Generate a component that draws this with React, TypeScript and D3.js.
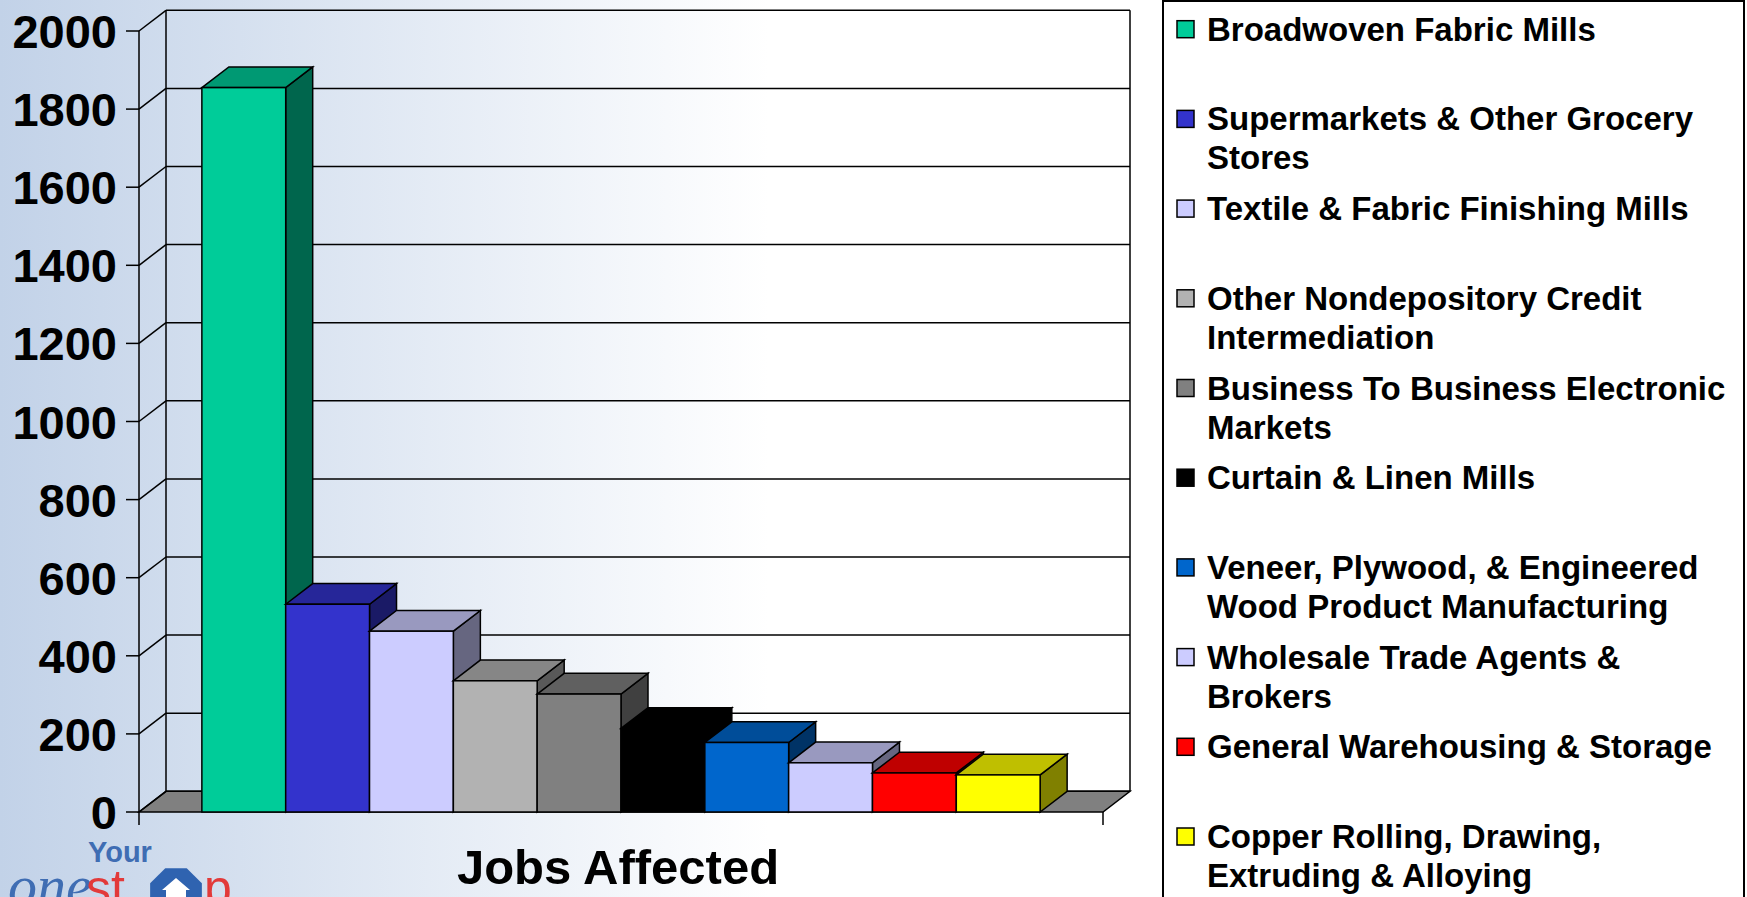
import React, { useEffect, useRef } from "react";
import * as d3 from "d3";

// values (jobs affected per industry)
const industries = [
  "Broadwoven Fabric Mills",
  "Supermarkets & Other Grocery Stores",
  "Textile & Fabric Finishing Mills",
  "Other Nondepository Credit Intermediation",
  "Business To Business Electronic Markets",
  "Curtain & Linen Mills",
  "Veneer, Plywood, & Engineered Wood Product Manufacturing",
  "Wholesale Trade Agents & Brokers",
  "General Warehousing & Storage",
  "Copper Rolling, Drawing, Extruding & Alloying",
];
const jobs = [1855, 532, 463, 336, 302, 214, 178, 126, 100, 95];
const barColors = [
  "#00cc99", "#3333cc", "#ccccff", "#b2b2b2", "#808080",
  "#000000", "#0066cc", "#ccccff", "#ff0000", "#ffff00",
];
const legendLines = [
  ["Broadwoven Fabric Mills"],
  ["Supermarkets & Other Grocery", "Stores"],
  ["Textile & Fabric Finishing Mills"],
  ["Other Nondepository Credit", "Intermediation"],
  ["Business To Business Electronic", "Markets"],
  ["Curtain & Linen Mills"],
  ["Veneer, Plywood, & Engineered", "Wood Product Manufacturing"],
  ["Wholesale Trade Agents &", "Brokers"],
  ["General Warehousing & Storage"],
  ["Copper Rolling, Drawing,", "Extruding & Alloying"],
];
const yTicks = [0, 200, 400, 600, 800, 1000, 1200, 1400, 1600, 1800, 2000];
const axisTitle = "Jobs Affected";

const W = 1747, H = 897;
const FONT = "'Liberation Sans', Arial, sans-serif";

const shade = (c: string, k: number) => {
  const r = d3.rgb(c);
  return d3.rgb(r.r * k, r.g * k, r.b * k).formatHex();
};

const App = () => {
  const svgRef = useRef(null);

  useEffect(() => {
    const svg = d3.select(svgRef.current);
    svg.selectAll("*").remove();

    // depth offset of the 3d box
    const dx = 27, dy = -20.7;
    const x0 = 139, x1 = 1103;

    const y = d3.scaleLinear([0, 2000], [812, 31]);
    const x = d3.scaleBand(industries, [x0, x1]).paddingInner(0).paddingOuter(0.75);

    // background gradient
    const defs = svg.append("defs");
    const grad = defs.append("linearGradient").attr("id", "bg").attr("x1", 0).attr("x2", 1).attr("y1", 0).attr("y2", 0);
    grad.append("stop").attr("offset", 0).attr("stop-color", "#c2d2e8");
    grad.append("stop").attr("offset", 0.44).attr("stop-color", "#ffffff");
    grad.append("stop").attr("offset", 1).attr("stop-color", "#ffffff");
    svg.append("rect").attr("width", W).attr("height", H).attr("fill", "url(#bg)");

    const g = svg.append("g").attr("stroke-linejoin", "miter");

    // floor
    g.append("polygon")
      .attr("points", [[x0, y(0)], [x1, y(0)], [x1 + dx, y(0) + dy], [x0 + dx, y(0) + dy]].join(" "))
      .attr("fill", "#808080")
      .attr("stroke", "#000")
      .attr("stroke-width", 1.5);

    // back wall gridlines + side wall diagonals
    yTicks.forEach((t) => {
      g.append("line")
        .attr("x1", x0 + dx).attr("x2", x1 + dx)
        .attr("y1", y(t) + dy).attr("y2", y(t) + dy)
        .attr("stroke", "#000").attr("stroke-width", 1.5);
      g.append("line")
        .attr("x1", x0).attr("x2", x0 + dx)
        .attr("y1", y(t)).attr("y2", y(t) + dy)
        .attr("stroke", "#000").attr("stroke-width", 1.5);
      g.append("line")
        .attr("x1", 126).attr("x2", x0)
        .attr("y1", y(t)).attr("y2", y(t))
        .attr("stroke", "#000").attr("stroke-width", 1.5);
      g.append("text")
        .attr("x", 117).attr("y", y(t) + 17)
        .attr("text-anchor", "end")
        .attr("font-family", FONT).attr("font-weight", "bold").attr("font-size", 47)
        .text(t);
    });
    // wall edges
    g.append("line").attr("x1", x0 + dx).attr("x2", x0 + dx).attr("y1", y(2000) + dy).attr("y2", y(0) + dy)
      .attr("stroke", "#000").attr("stroke-width", 1.5);
    g.append("line").attr("x1", x1 + dx).attr("x2", x1 + dx).attr("y1", y(2000) + dy).attr("y2", y(0) + dy)
      .attr("stroke", "#000").attr("stroke-width", 1.5);
    // value axis and category end ticks
    g.append("line").attr("x1", x0).attr("x2", x0).attr("y1", y(2000)).attr("y2", y(0) + 13)
      .attr("stroke", "#000").attr("stroke-width", 1.5);
    g.append("line").attr("x1", x1).attr("x2", x1).attr("y1", y(0)).attr("y2", y(0) + 13)
      .attr("stroke", "#000").attr("stroke-width", 1.5);

    // bars, left to right so each covers its neighbour's side face
    industries.forEach((name, i) => {
      const bx = x(name) as number;
      const bw = x.bandwidth();
      const top = y(jobs[i]);
      const base = y(0);
      const c = barColors[i];
      const bar = g.append("g").attr("stroke", "#000").attr("stroke-width", 1.5);
      bar.append("polygon")
        .attr("points", [[bx + bw, top], [bx + bw + dx, top + dy], [bx + bw + dx, base + dy], [bx + bw, base]].join(" "))
        .attr("fill", shade(c, 0.5));
      bar.append("polygon")
        .attr("points", [[bx, top], [bx + dx, top + dy], [bx + bw + dx, top + dy], [bx + bw, top]].join(" "))
        .attr("fill", shade(c, 0.75));
      bar.append("rect")
        .attr("x", bx).attr("y", top).attr("width", bw).attr("height", base - top)
        .attr("fill", c);
    });

    // axis title
    svg.append("text")
      .attr("x", 618).attr("y", 884)
      .attr("text-anchor", "middle")
      .attr("font-family", FONT).attr("font-weight", "bold").attr("font-size", 49)
      .text(axisTitle);

    // legend
    const lg = svg.append("g");
    lg.append("rect")
      .attr("x", 1163).attr("y", 1).attr("width", 581).attr("height", 940)
      .attr("fill", "#fff").attr("stroke", "#000").attr("stroke-width", 2);
    legendLines.forEach((lines, i) => {
      const base = 40.7 + 89.7 * i;
      lg.append("rect")
        .attr("x", 1177).attr("y", base - 20).attr("width", 17).attr("height", 17)
        .attr("fill", barColors[i]).attr("stroke", "#000").attr("stroke-width", 1.5);
      lines.forEach((line, j) => {
        lg.append("text")
          .attr("x", 1207).attr("y", base + j * 39)
          .attr("font-family", FONT).attr("font-weight", "bold").attr("font-size", 33)
          .text(line);
      });
    });

    // "Your onestop" logo, cut off by the bottom edge
    const logo = svg.append("g");
    logo.append("text").attr("x", 88).attr("y", 862)
      .attr("font-family", FONT).attr("font-weight", "bold").attr("font-size", 29)
      .attr("fill", "#3f6db3").text("Your");
    logo.append("text").attr("x", 8).attr("y", 905)
      .attr("font-family", "'Liberation Serif', serif").attr("font-style", "italic").attr("font-size", 58)
      .attr("fill", "#3f6db3").text("one");
    logo.append("text").attr("x", 86).attr("y", 905)
      .attr("font-family", FONT).attr("font-size", 50)
      .attr("fill", "#e23a3a").text("st");
    const oc = [176, 894], r = 28;
    const oct = d3.range(8).map((k) => {
      const a = Math.PI / 8 + (k * Math.PI) / 4;
      return [oc[0] + r * Math.cos(a), oc[1] + r * Math.sin(a)];
    });
    logo.append("polygon").attr("points", oct.join(" ")).attr("fill", "#2f63b0");
    logo.append("polygon")
      .attr("points", [[176, 878], [162, 890], [166, 890], [166, 900], [186, 900], [186, 890], [190, 890]].join(" "))
      .attr("fill", "#fff");
    logo.append("text").attr("x", 204).attr("y", 905)
      .attr("font-family", FONT).attr("font-size", 50)
      .attr("fill", "#e23a3a").text("p");
  }, []);

  return (
    <svg
      ref={svgRef}
      width={W}
      height={H}
      style={{ position: "absolute", left: 0, top: 0, display: "block" }}
    ></svg>
  );
};

export default App;
